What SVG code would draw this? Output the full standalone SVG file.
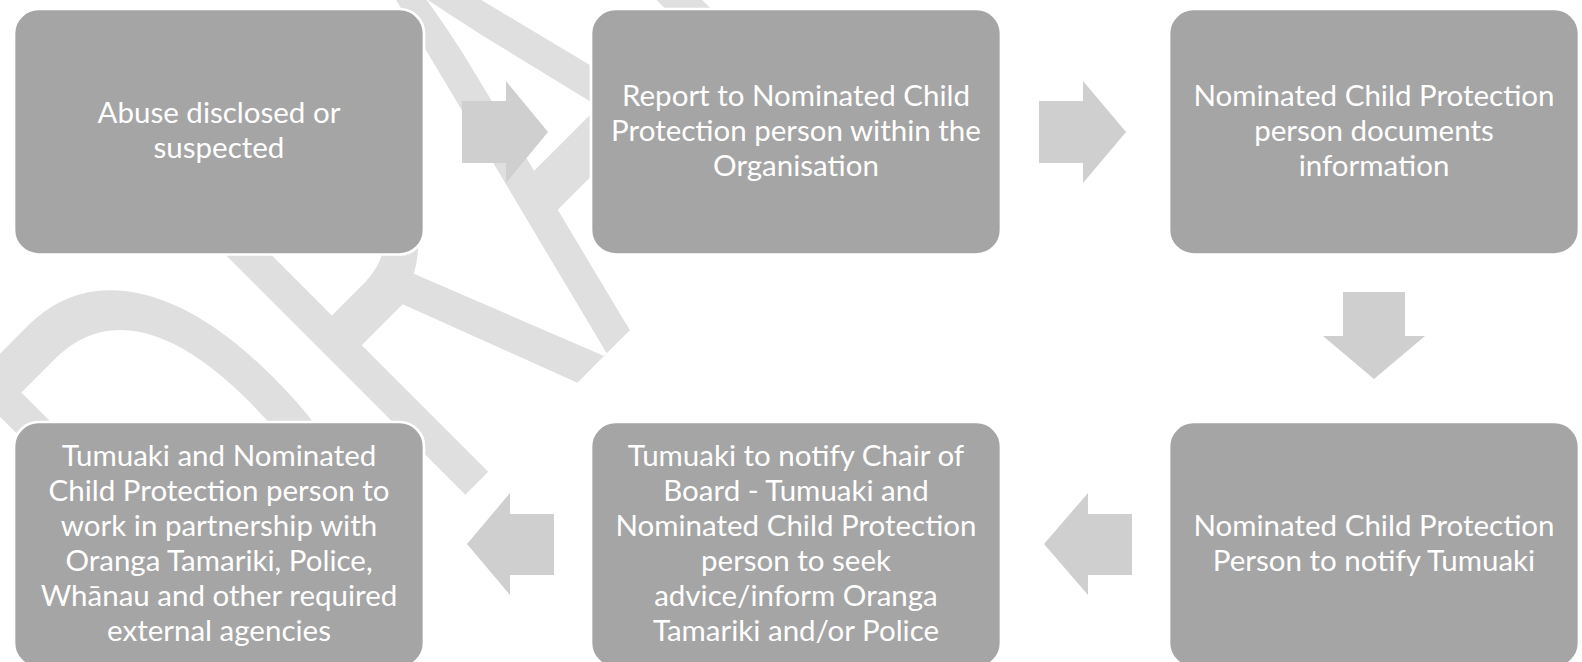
<svg xmlns="http://www.w3.org/2000/svg" width="1582" height="662" viewBox="0 0 1582 662">
<style>
.bg{fill:#FFFFFF}
.wm{font-family:"Open Sans","Liberation Sans",sans-serif;font-size:390px;fill:#DFDFDF}
.box{fill:#A5A5A5;stroke:#FFFFFF;stroke-width:2.7}
.lbl{font-family:Lato,"Open Sans",sans-serif;font-size:29.5px;fill:#FFFFFF;text-anchor:middle}
.arr{fill:#CFCFCF}
</style>
<rect class="bg" x="0" y="0" width="1582" height="662"/>
<g id="watermark">
<text class="wm" transform="translate(478,482) rotate(-45) scale(1,1.54)" x="-330 -56 182 429 643" y="0">DRAFT</text>
</g>
<g id="connectors">
<polygon class="arr" points="462,101 506,101 506,81 548,132 506,183 506,163 462,163"/>
<polygon class="arr" points="1039,101 1083,101 1083,81 1126,132 1083,183 1083,163 1039,163"/>
<polygon class="arr" points="1343,292 1405,292 1405,336 1425,336 1374,379 1323,336 1343,336"/>
<polygon class="arr" points="1132,514 1088,514 1088,493 1044,544 1088,595 1088,575 1132,575"/>
<polygon class="arr" points="554,514 510,514 510,493 467,544 510,595 510,575 554,575"/>
</g>
<g id="node1">
<rect class="box" x="14" y="9" width="410" height="245.5" rx="24.5"/>
<text class="lbl"><tspan x="219" y="123.2">Abuse disclosed or</tspan><tspan x="219" y="158.3">suspected</tspan></text>
</g>
<g id="node2">
<rect class="box" x="591" y="9" width="410" height="245.5" rx="24.5"/>
<text class="lbl"><tspan x="796" y="105.6">Report to Nominated Child</tspan><tspan x="796" y="140.7">Protection person within the</tspan><tspan x="796" y="175.8">Organisation</tspan></text>
</g>
<g id="node3">
<rect class="box" x="1169" y="9" width="410" height="245.5" rx="24.5"/>
<text class="lbl"><tspan x="1374" y="105.6">Nominated Child Protection</tspan><tspan x="1374" y="140.7">person documents</tspan><tspan x="1374" y="175.8">information</tspan></text>
</g>
<g id="node4">
<rect class="box" x="1169" y="422" width="410" height="245.5" rx="24.5"/>
<text class="lbl"><tspan x="1374" y="536">Nominated Child Protection</tspan><tspan x="1374" y="571">Person to notify Tumuaki</tspan></text>
</g>
<g id="node5">
<rect class="box" x="591" y="422" width="410" height="245.5" rx="24.5"/>
<text class="lbl"><tspan x="796" y="465.5">Tumuaki to notify Chair of</tspan><tspan x="796" y="500.6">Board - Tumuaki and</tspan><tspan x="796" y="535.7">Nominated Child Protection</tspan><tspan x="796" y="570.8">person to seek</tspan><tspan x="796" y="605.9">advice/inform Oranga</tspan><tspan x="796" y="641">Tamariki and/or Police</tspan></text>
</g>
<g id="node6">
<rect class="box" x="14" y="422" width="410" height="245.5" rx="24.5"/>
<text class="lbl"><tspan x="219" y="465.5">Tumuaki and Nominated</tspan><tspan x="219" y="500.6">Child Protection person to</tspan><tspan x="219" y="535.7">work in partnership with</tspan><tspan x="219" y="570.8">Oranga Tamariki, Police,</tspan><tspan x="219" y="605.9">Whānau and other required</tspan><tspan x="219" y="641">external agencies</tspan></text>
</g>
</svg>
